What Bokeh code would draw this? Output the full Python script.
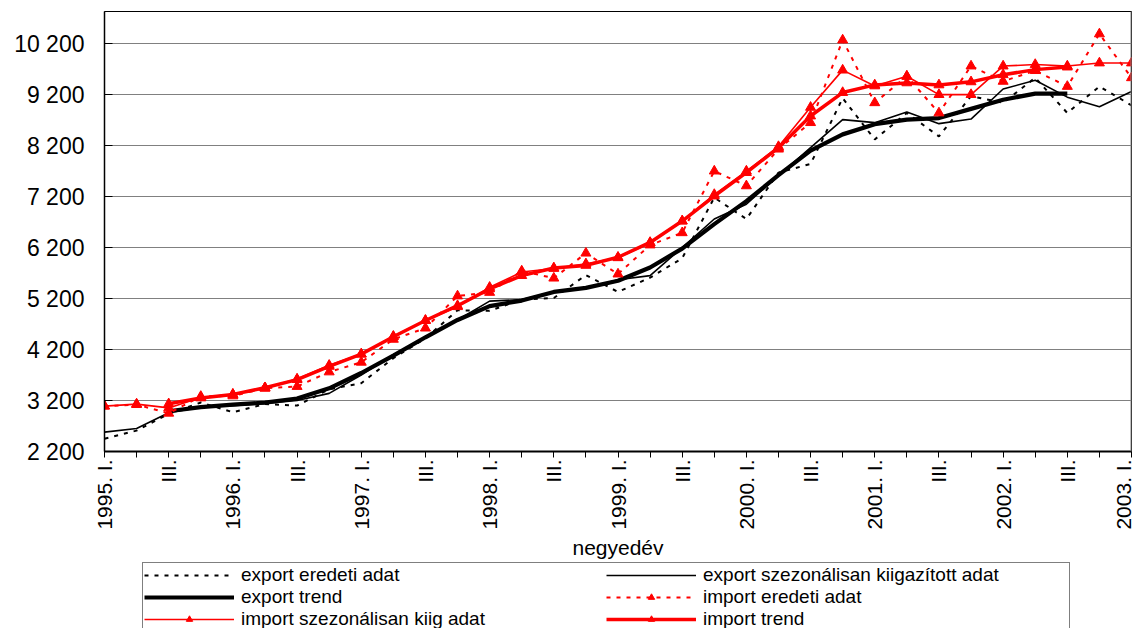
import math
from bokeh.plotting import figure
from bokeh.layouts import column
from bokeh.models import Range1d, FixedTicker, Legend, LegendItem, Span
from bokeh.embed import file_html
from bokeh.resources import INLINE

nan = float("nan")

# 33 quarters: 1995 I .. 2003 I
quarters = list(range(33))
years = [1995, 1996, 1997, 1998, 1999, 2000, 2001, 2002, 2003]

export_orig = [2450, 2610, 2940, 3160, 2970, 3130, 3100, 3420, 3540, 4030, 4420, 4970,
               4960, 5180, 5210, 5660, 5330, 5610, 5990, 7180, 6760, 7670, 7840, 9130,
               8320, 8840, 8380, 9170, 9040, 9530, 8840, 9360, 8990]
export_sa = [2580, 2650, 2960, 3070, 3100, 3140, 3200, 3340, 3700, 4100, 4440, 4780,
             5150, 5180, 5330, 5400, 5570, 5650, 6200, 6760, 7050, 7610, 8160, 8710,
             8650, 8860, 8630, 8720, 9310, 9480, 9150, 8960, 9260]
export_trend = [nan, nan, 2990, 3070, 3120, 3160, 3240, 3440, 3740, 4080, 4440, 4780,
                5050, 5160, 5330, 5410, 5550, 5810, 6180, 6660, 7110, 7620, 8100, 8420,
                8620, 8710, 8740, 8920, 9100, 9220, 9220, nan, nan]
import_orig = [3090, 3120, 2950, 3280, 3290, 3440, 3475, 3760, 3950, 4400, 4620, 5250,
               5320, 5740, 5600, 6090, 5680, 6250, 6490, 7700, 7410, 8130, 8650, 10270,
               9040, 9560, 8840, 9760, 9460, 9670, 9360, 10390, 9530]
import_sa = [3090, 3130, 3055, 3260, 3320, 3450, 3620, 3890, 4110, 4460, 4770, 5040,
             5420, 5720, 5790, 5880, 6000, 6290, 6720, 7240, 7700, 8180, 8950, 9680,
             9370, 9560, 9200, 9200, 9760, 9790, 9760, 9820, 9820]
import_trend = [nan, nan, 3135, 3250, 3320, 3450, 3610, 3870, 4110, 4450, 4770, 5060,
                5390, 5650, 5800, 5850, 6010, 6300, 6720, 7210, 7670, 8160, 8780, 9240,
                9390, 9430, 9390, 9450, 9590, 9690, 9740, nan, nan]

y_ticks = [2200, 3200, 4200, 5200, 6200, 7200, 8200, 9200, 10200]
y_tick_labels = ["2 200", "3 200", "4 200", "5 200", "6 200", "7 200", "8 200", "9 200", "10 200"]

series_names = ["export eredeti adat", "export szezonálisan kiigazított adat", "export trend",
                "import eredeti adat", "import szezonálisan kiig adat", "import trend"]

x_tick_labels = {}
for i in quarters:
    if i % 4 == 0:
        x_tick_labels[i] = f"{years[i // 4]}. I."
    elif i % 4 == 2:
        x_tick_labels[i] = "III."
    else:
        x_tick_labels[i] = ""

FONT = "Liberation Sans"
RED = "#FF0000"

# ---------------- main chart ----------------
p = figure(width=1134, height=562, x_range=Range1d(0, 32), y_range=Range1d(2200, 10830),
           output_backend="svg", toolbar_location=None, title=None,
           min_border_left=104, min_border_right=3, min_border_top=11, min_border_bottom=111)
p.background_fill_color = "white"
p.border_fill_color = "white"
p.outline_line_color = "black"
p.outline_line_width = 1

p.xgrid.grid_line_color = None
p.ygrid.grid_line_color = "#808080"
p.ygrid.grid_line_width = 1

p.xaxis.ticker = FixedTicker(ticks=quarters)
p.xaxis.major_label_overrides = x_tick_labels
p.xaxis.major_label_orientation = math.pi / 2
p.xaxis.major_label_text_font = FONT
p.xaxis.major_label_text_font_size = "21px"
p.xaxis.major_label_text_color = "black"
p.xaxis.major_label_standoff = 2
p.xaxis.axis_line_color = "black"
p.xaxis.axis_line_width = 2
p.xaxis.major_tick_in = 0
p.xaxis.major_tick_out = 6
p.xaxis.major_tick_line_color = "black"
p.xaxis.minor_tick_line_color = None
p.xaxis.axis_label = "negyedév"
p.xaxis.axis_label_text_font = FONT
p.xaxis.axis_label_text_font_size = "21px"
p.xaxis.axis_label_text_font_style = "normal"
p.xaxis.axis_label_text_color = "black"
p.xaxis.axis_label_standoff = 3

p.yaxis.ticker = FixedTicker(ticks=y_ticks)
p.yaxis.major_label_overrides = {t: l for t, l in zip(y_ticks, y_tick_labels)}
p.yaxis.major_label_text_font = FONT
p.yaxis.major_label_text_font_size = "23px"
p.yaxis.major_label_text_color = "black"
p.yaxis.major_label_standoff = 20
p.yaxis.axis_line_color = "black"
p.yaxis.axis_line_width = 1.5
p.yaxis.major_tick_in = 8
p.yaxis.major_tick_out = 0
p.yaxis.major_tick_line_color = "black"
p.yaxis.minor_tick_line_color = None

p.add_layout(Span(location=32, dimension="height", line_color="#808080", line_width=2))

# styles per series
styles = [
    dict(line_color="black", line_width=2, line_dash="4 6"),
    dict(line_color="black", line_width=1.6),
    dict(line_color="black", line_width=4.2),
    dict(line_color=RED, line_width=2, line_dash="4 6"),
    dict(line_color=RED, line_width=1.6),
    dict(line_color=RED, line_width=3.5),
]
has_marker = [False, False, False, True, True, True]
series = [export_orig, export_sa, export_trend, import_orig, import_sa, import_trend]

for vals, st, mk in zip(series, styles, has_marker):
    p.line(quarters, vals, **st)
    if mk:
        p.scatter(quarters, vals, marker="triangle", size=10, color=RED)

# ---------------- legend strip ----------------
lg = figure(width=1134, height=66, x_range=Range1d(0, 1), y_range=Range1d(0, 1),
            output_backend="svg", toolbar_location=None, title=None,
            min_border_left=0, min_border_right=0, min_border_top=0, min_border_bottom=0)
lg.axis.visible = False
lg.grid.visible = False
lg.outline_line_color = None
lg.background_fill_color = "white"
lg.border_fill_color = "white"

# legend-only swatches (kept outside the visible range of the strip)
swatch_x = [-10, -9]
swatch_y = [-10, -9]
items = []
for name, st, mk in zip(series_names, styles, has_marker):
    rs = [lg.line(swatch_x, swatch_y, **st)]
    if mk:
        rs.append(lg.scatter(swatch_x, swatch_y, marker="triangle", size=7, color=RED))
    items.append(LegendItem(label=name, renderers=rs))

legend = Legend(items=items, orientation="horizontal", ncols=2, location=(38, -4),
                label_text_font=FONT, label_text_font_size="19px", label_text_color="black",
                label_text_line_height=1.0,
                glyph_width=90, glyph_height=16, label_standoff=7, label_width=365,
                label_height=19, spacing=0, padding=1, margin=0,
                border_line_color="black", border_line_width=1,
                background_fill_color="white", background_fill_alpha=1)
lg.add_layout(legend, "center")

layout = column(p, lg, spacing=0)
open("out.html", "w").write(file_html(layout, INLINE))
